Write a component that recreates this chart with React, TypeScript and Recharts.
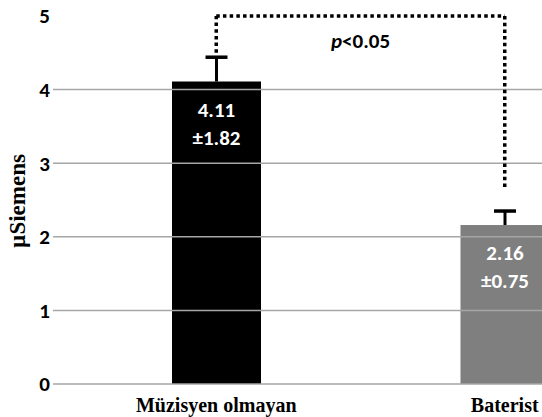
import { BarChart, Bar, XAxis, YAxis, ReferenceLine, Label, LabelList } from 'recharts';

const categories = ['Müzisyen olmayan', 'Baterist'];
const means = [4.11, 2.16];
const sds = [1.82, 0.75];
const errors = [0.33, 0.19];
const barColors = ['#000000', '#7f7f7f'];
const yTicks = [0, 1, 2, 3, 4, 5];
const gridValues = [0, 1, 2, 3, 4];
const bracketY = { start: 4.5, top: 5, end: 2.66 };

const data = categories.map((name, i) => ({ name, mean: means[i], sd: sds[i], err: errors[i] }));

const SANS = 'Carlito, Lato, sans-serif';
const SERIF = '"Liberation Serif", "DejaVu Serif", serif';

// bar + upward-only error whisker, scaled from the bar's own pixel height
const BarWithError = (props: any) => {
  const { x, y, width, height, index, payload } = props;
  const pxPerUnit = height / payload.mean;
  const top = y - payload.err * pxPerUnit;
  const cx = x + width / 2;
  return (
    <g>
      <rect x={x} y={y} width={width} height={height} fill={barColors[index]} />
      <line x1={cx} x2={cx} y1={y} y2={top} stroke="#000" strokeWidth={3} />
      <line x1={cx - 11} x2={cx + 11} y1={top} y2={top} stroke="#000" strokeWidth={3.5} />
    </g>
  );
};

const ValueLabel = (props: any) => {
  const { x, y, width, index } = props;
  const cx = x + width / 2;
  const style = { fontFamily: SANS, fontWeight: 700, fontSize: 21 };
  return (
    <g>
      <text x={cx} y={y + 35} textAnchor="middle" fill="#fff" style={style}>
        {means[index].toFixed(2)}
      </text>
      <text x={cx} y={y + 63} textAnchor="middle" fill="#fff" style={style}>
        ±{sds[index].toFixed(2)}
      </text>
    </g>
  );
};

const PLabel = (props: any) => {
  const { viewBox } = props;
  const cx = viewBox.x + viewBox.width / 2;
  return (
    <text x={cx} y={viewBox.y + 32} textAnchor="middle" fill="#000" style={{ fontFamily: SANS, fontWeight: 700, fontSize: 21 }}>
      <tspan fontStyle="italic">p</tspan>
      <tspan>&lt;0.05</tspan>
    </text>
  );
};

const YLabel = (props: any) => {
  const { viewBox } = props;
  const cy = viewBox.y + viewBox.height / 2 + 1;
  return (
    <text x={25} y={cy} transform={`rotate(-90, 25, ${cy})`} textAnchor="middle" fill="#000" style={{ fontFamily: SERIF, fontWeight: 700, fontSize: 23 }}>
      µSiemens
    </text>
  );
};

const dotted = { stroke: '#000', strokeWidth: 3.5, strokeDasharray: '3.5 3.2' };

export default function App() {
  return (
    <div style={{ position: 'absolute', left: 0, top: 0, width: 542, height: 417, overflow: 'hidden', background: '#fff' }}>
      <BarChart width={650} height={417} data={data} margin={{ top: 16, right: 0, left: 0, bottom: 3 }} barSize={89}>
        <XAxis
          dataKey="name"
          height={30}
          axisLine={false}
          tickLine={false}
          tickSize={0}
          tickMargin={14}
          padding={{ left: 19, right: 1 }}
          tick={{ fill: '#000', fontFamily: SERIF, fontWeight: 700, fontSize: 20 }}
        />
        <YAxis
          width={53}
          domain={[0, 5]}
          ticks={yTicks}
          axisLine={false}
          tickLine={false}
          tickSize={0}
          tickMargin={3}
          tick={{ fill: '#000', fontFamily: SANS, fontWeight: 700, fontSize: 21 }}
          label={<Label content={YLabel} />}
        />
        {gridValues.map((v) => (
          <ReferenceLine key={v} y={v} stroke="#a6a6a6" strokeWidth={1.5} />
        ))}
        <Bar dataKey="mean" shape={BarWithError} isAnimationActive={false}>
          <LabelList dataKey="mean" content={ValueLabel} />
        </Bar>
        <ReferenceLine segment={[{ x: categories[0], y: bracketY.start }, { x: categories[0], y: bracketY.top }]} {...dotted} />
        <ReferenceLine segment={[{ x: categories[0], y: bracketY.top }, { x: categories[1], y: bracketY.top }]} {...dotted}>
          <Label content={PLabel} />
        </ReferenceLine>
        <ReferenceLine segment={[{ x: categories[1], y: bracketY.top }, { x: categories[1], y: bracketY.end }]} {...dotted} />
      </BarChart>
    </div>
  );
}
